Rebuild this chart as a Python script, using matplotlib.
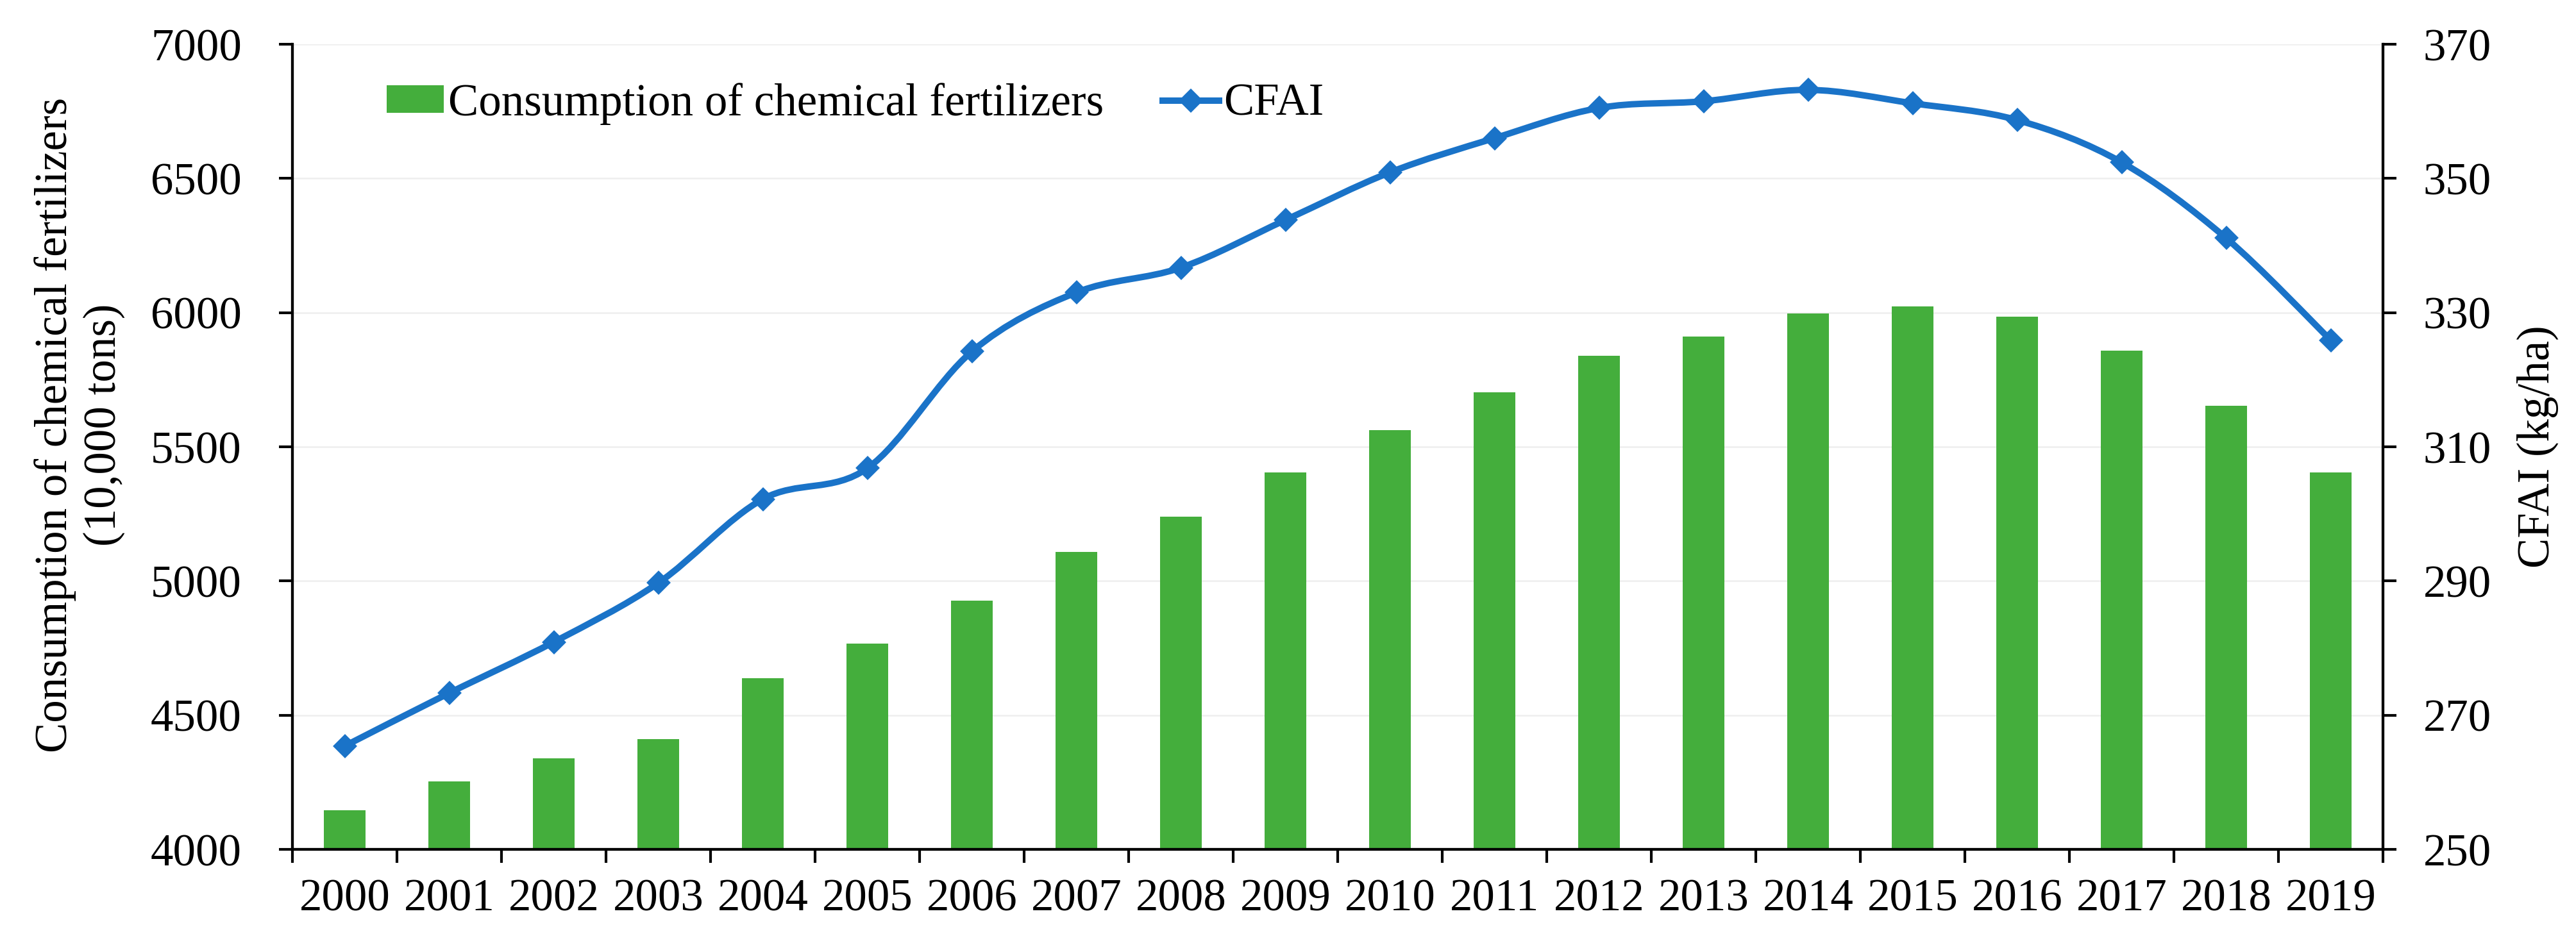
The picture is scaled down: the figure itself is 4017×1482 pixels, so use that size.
import matplotlib.pyplot as plt
from matplotlib.path import Path
from matplotlib.patches import PathPatch, Patch
from matplotlib.lines import Line2D
import numpy as np

plt.rcParams['font.family'] = ['Liberation Serif', 'DejaVu Serif']

# data
years = [str(y) for y in range(2000, 2020)]
consumption = [4146.4, 4253.8, 4339.4, 4411.6, 4636.6, 4766.2, 4927.7, 5107.8,
               5239.0, 5404.4, 5561.7, 5704.2, 5838.8, 5911.9, 5995.9, 6022.6,
               5984.1, 5859.4, 5653.4, 5403.6]
cfai = [265.4, 273.3, 280.9, 289.7, 302.2, 306.8, 324.2, 333.0, 336.7, 343.8,
        350.9, 356.0, 360.5, 361.5, 363.2, 361.2, 358.7, 352.4, 341.1, 325.9]

green = '#44ae3c'
blue = '#1a73c8'
fs = 17

fig = plt.figure(figsize=(4017 / 300, 1482 / 300), dpi=300)
ax = fig.add_axes([456 / 4017, 1 - 1325 / 1482, (3716 - 456) / 4017, (1325 - 69) / 1482])
ax2 = ax.twinx()

x = np.arange(len(years))
ax.bar(x, consumption, width=0.4, color=green, zorder=2)
ax.set_xlim(-0.5, len(years) - 0.5)
ax.set_ylim(4000, 7000)
ax.set_yticks(np.arange(4000, 7001, 500))
ax.grid(axis='y', color='#eeeeee', linewidth=0.6)
ax.set_axisbelow(True)

# x ticks: labels at categories, tick marks between categories
ax.set_xticks(x)
ax.set_xticklabels(years)
ax.set_xticks(np.arange(-0.5, len(years)), minor=True)
ax.tick_params(axis='x', which='major', length=0, pad=11, labelsize=fs)
ax.tick_params(axis='x', which='minor', length=5, width=1.0, direction='out')
ax.tick_params(axis='y', length=5, width=1.0, direction='out', pad=14, labelsize=fs)

# smoothed CFAI line (Bezier through the data points, like Excel)
pts = list(zip(x.astype(float), cfai))
verts = [pts[0]]
codes = [Path.MOVETO]
n = len(pts)
for i in range(n - 1):
    p0 = pts[i - 1] if i > 0 else pts[i]
    p1 = pts[i]
    p2 = pts[i + 1]
    p3 = pts[i + 2] if i + 2 < n else pts[i + 1]
    c1 = (p1[0] + (p2[0] - p0[0]) / 6, p1[1] + (p2[1] - p0[1]) / 6)
    c2 = (p2[0] - (p3[0] - p1[0]) / 6, p2[1] - (p3[1] - p1[1]) / 6)
    verts += [c1, c2, p2]
    codes += [Path.CURVE4] * 3
ax2.add_patch(PathPatch(Path(verts, codes), fill=False, edgecolor=blue, linewidth=2.4,
                        capstyle='round', joinstyle='round', zorder=3))
ax2.plot(x, cfai, linestyle='none', marker='D', markersize=5.5, color=blue, zorder=4)
ax2.set_ylim(250, 370)
ax2.set_yticks(np.arange(250, 371, 20))
ax2.tick_params(axis='y', length=5, width=1.0, direction='out', pad=10, labelsize=fs)

for a in (ax, ax2):
    a.spines['top'].set_visible(False)
    for s in ('left', 'right', 'bottom'):
        a.spines[s].set_linewidth(1.0)

# axis labels
fig.text(124 / 4017, 1 - 663 / 1482, 'Consumption of chemical fertilizers\n(10,000 tons)',
         rotation=90, ha='center', va='center', fontsize=fs, linespacing=1.2,
         multialignment='center')
fig.text(3957 / 4017, 1 - 697 / 1482, 'CFAI (kg/ha)', rotation=90, ha='center',
         va='center', fontsize=fs)

# legend
handles = [Patch(facecolor=green, edgecolor='none'),
           Line2D([], [], color=blue, linewidth=2.4, marker='D', markersize=5.5)]
fig.legend(handles, ['Consumption of chemical fertilizers', 'CFAI'],
           loc='center left', bbox_to_anchor=(603 / 4017, 1 - 162 / 1482), ncol=2,
           frameon=False, fontsize=fs, handlelength=1.25, handleheight=0.55,
           handletextpad=0.1, columnspacing=1.3, borderpad=0, borderaxespad=0)

plt.savefig('out.png', dpi=300)
